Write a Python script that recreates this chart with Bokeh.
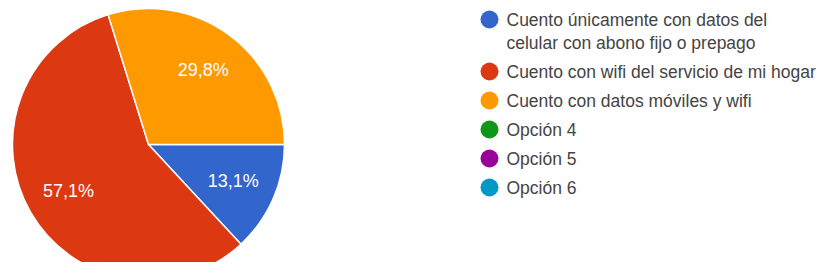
import math
from bokeh.plotting import figure
from bokeh.models import Range1d, ColumnDataSource
from bokeh.core.properties import value
from bokeh.embed import file_html
from bokeh.resources import INLINE

# ---- data ----
categories = [
    "Cuento únicamente con datos del\ncelular con abono fijo o prepago",
    "Cuento con wifi del servicio de mi hogar",
    "Cuento con datos móviles y wifi",
    "Opción 4",
    "Opción 5",
    "Opción 6",
]
percentages = [13.1, 57.1, 29.8, 0.0, 0.0, 0.0]
colors = ["#3366cc", "#dc3912", "#ff9900", "#109618", "#990099", "#0099c6"]

# ---- layout constants (pixels of the picture) ----
W, H = 818, 262
cx, cy_img, R = 148, 144, 136
label_r = 0.68 * R
FONT = "Liberation Sans"


def Y(y_img):
    return H - y_img


p = figure(width=W, height=H, output_backend="svg", toolbar_location=None,
           x_range=Range1d(0, W), y_range=Range1d(0, H),
           min_border=0, tools="")
p.axis.visible = False
p.grid.visible = False
p.outline_line_color = None
p.background_fill_color = "white"
p.border_fill_color = "white"

total = sum(percentages)
starts, ends, cols, lx, ly, ltxt = [], [], [], [], [], []
acc = 0.0
for v, c in zip(percentages, colors):
    if v <= 0:
        continue
    a0 = -2 * math.pi * acc / total
    a1 = -2 * math.pi * (acc + v) / total
    starts.append(a0)
    ends.append(a1)
    cols.append(c)
    mid = (a0 + a1) / 2
    lx.append(cx + label_r * math.cos(mid))
    ly.append(Y(cy_img) + label_r * math.sin(mid))
    ltxt.append(f"{v:.1f}".replace(".", ",") + "%")
    acc += v

src = ColumnDataSource(dict(s=starts, e=ends, c=cols))
p.wedge(x=cx, y=Y(cy_img), radius=R, start_angle="s", end_angle="e",
        direction="clock", fill_color="c", line_color="white", line_width=1.5,
        source=src)

p.text(x=lx, y=ly, text=ltxt, text_color="white", text_font=value(FONT),
       text_font_size="18px", text_align="center", text_baseline="middle")

# ---- legend ----
mx, tx = 489, 506
y = 19
mk_y, t_x, t_y, t_txt = [], [], [], []
for cat, c in zip(categories, colors):
    mk_y.append(Y(y))
    lines = cat.split("\n")
    for j, ln in enumerate(lines):
        t_x.append(tx)
        t_y.append(Y(y + 23 * j))
        t_txt.append(ln)
    y += 23 * (len(lines) - 1) + 29

p.scatter(x=[mx] * len(colors), y=mk_y, size=18, marker="circle",
          fill_color=colors, line_color=None)
p.text(x=t_x, y=t_y, text=t_txt, text_color="#444444", text_font=value(FONT),
       text_font_size="17.5px", text_align="left", text_baseline="middle")

open("out.html", "w").write(file_html(p, INLINE))
